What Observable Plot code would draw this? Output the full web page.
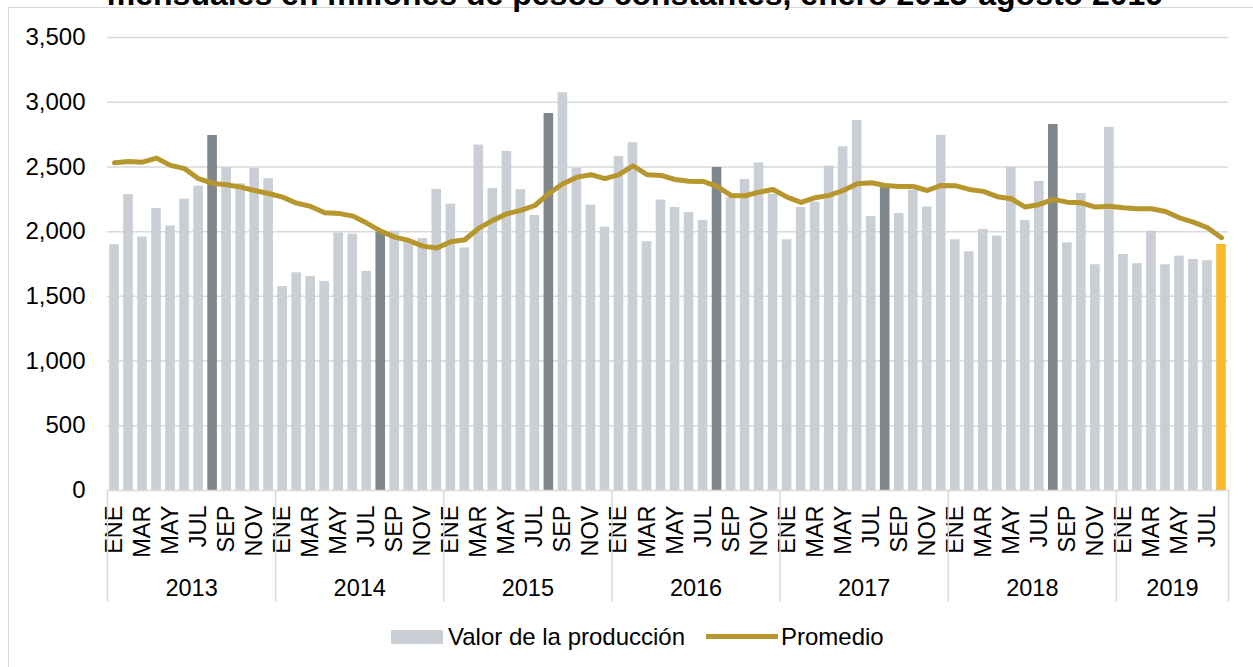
<!DOCTYPE html>
<html>
<head>
<meta charset="utf-8">
<script src="https://cdn.jsdelivr.net/npm/d3@7"></script>
<script src="https://cdn.jsdelivr.net/npm/@observablehq/plot@0.6"></script>
<style>
  html, body { margin: 0; padding: 0; background: #fff; overflow: hidden; }
  body { font-family: "Liberation Sans", Arial, sans-serif; }
  #wrap { position: relative; width: 1253px; height: 667px; overflow: hidden; }
  #frame { position: absolute; left: 8px; top: 7px; width: 1270px; height: 680px; border: 1px solid #d9d9d9; box-sizing: border-box; }
  #title { position: absolute; left: 0; width: 1270px; top: -22px; text-align: center; font-weight: bold; font-size: 32px; line-height: 32px; color: #000; white-space: nowrap; }
  #chart { position: absolute; left: 0; top: 0; }
  .leg { position: absolute; font-size: 24px; line-height: 24px; color: #000; white-space: nowrap; }
</style>
</head>
<body>
<div id="wrap">
  <div id="frame"></div>
  <div id="chart"></div>
  <div id="title">mensuales en millones de pesos constantes, enero 2013-agosto 2019</div>
  <div id="legend"></div>
</div>
<script>
const months = ["ENE","FEB","MAR","ABR","MAY","JUN","JUL","AGO","SEP","OCT","NOV","DIC"];
const years = [2013, 2014, 2015, 2016, 2017, 2018, 2019];
const yTicks = [0, 500, 1000, 1500, 2000, 2500, 3000, 3500];

const valor = [
  1899, 2287, 1958, 2179, 2043, 2251, 2352, 2743, 2494, 2370, 2488, 2409,
  1576, 1682, 1654, 1615, 1989, 1981, 1692, 1996, 2004, 1930, 1947, 2326,
  2213, 1873, 2669, 2334, 2620, 2324, 2125, 2913, 3073, 2491, 2205, 2035,
  2581, 2687, 1922, 2244, 2187, 2148, 2087, 2496, 2262, 2403, 2530, 2290,
  1937, 2187, 2228, 2506, 2656, 2859, 2117, 2350, 2141, 2320, 2190, 2743,
  1937, 1845, 2017, 1965, 2499, 2087, 2388, 2828, 1914, 2295, 1744, 2805,
  1824, 1752, 2004, 1744, 1811, 1785, 1775, 1901
];

const promedio = [
  2532, 2542, 2537, 2568, 2512, 2487, 2409, 2373, 2362, 2344, 2318, 2295,
  2267, 2220, 2195, 2146, 2141, 2120, 2066, 2004, 1958, 1932, 1888, 1873,
  1922, 1937, 2027, 2087, 2138, 2164, 2202, 2295, 2370, 2421, 2440, 2409,
  2440, 2509, 2440, 2434, 2403, 2390, 2388, 2349, 2280, 2277, 2305, 2326,
  2267, 2226, 2262, 2280, 2318, 2370, 2378, 2357, 2349, 2349, 2318, 2357,
  2355, 2326, 2311, 2270, 2254, 2190, 2210, 2249, 2228, 2223, 2190, 2197,
  2185, 2177, 2177, 2156, 2107, 2074, 2030, 1953
];

const colBar = "#c9cfd5", colAug = "#7f878d", colCur = "#fbba27", colLine = "#b8962e";

const data = valor.map((v, i) => ({
  i, v, p: promedio[i], m: i % 12, year: years[Math.floor(i / 12)],
  tipo: i === valor.length - 1 ? "actual" : (i % 12 === 7 ? "agosto" : "otro")
}));

const n = valor.length;
const yearInfo = years.map((y, k) => {
  const start = k * 12;
  const count = Math.min(12, n - start);
  return { year: y, start, count };
});
const separators = yearInfo.map(d => d.start - 0.5).concat([n - 0.5]);
const monthTicks = d3.range(0, n, 2);

const chart = Plot.plot({
  width: 1253,
  height: 610,
  marginLeft: 107,
  marginRight: 25,
  marginTop: 37,
  marginBottom: 120,
  style: { fontFamily: "Liberation Sans, Arial, sans-serif", fontSize: "24px", color: "#000", background: "transparent" },
  x: { type: "linear", domain: [-0.5, n - 0.5], axis: null, label: null },
  y: { domain: [0, 3500], axis: null, label: null },
  color: { domain: ["otro", "agosto", "actual"], range: [colBar, colAug, colCur] },
  marks: [
    Plot.gridY(yTicks.slice(1), { stroke: "#d9d9d9", strokeOpacity: 1, strokeWidth: 1.5 }),
    Plot.axisY(yTicks, { tickSize: 0, tickPadding: 22, tickFormat: d3.format(","), fontSize: 24, fill: "#000", label: null }),
    Plot.rectY(data, { x1: d => d.i - 0.5, x2: d => d.i + 0.5, y: "v", fill: "tipo", insetLeft: 2.2, insetRight: 2.2 }),
    Plot.ruleY([0], { stroke: "#d9d9d9", strokeWidth: 1.5 }),
    Plot.lineY(data, { x: "i", y: "p", stroke: colLine, strokeWidth: 5, strokeLinejoin: "round", strokeLinecap: "round" }),
    Plot.axisX(monthTicks, { tickSize: 0, tickPadding: 15, tickRotate: -90, tickFormat: i => months[i % 12], fontSize: 23.5, fill: "#000", label: null }),
    Plot.ruleX(separators, { x: d => d, stroke: "#d9d9d9", strokeWidth: 1.5, insetTop: 453, insetBottom: -112 }),
    Plot.text(yearInfo, { x: d => d.start + (d.count - 1) / 2, text: d => String(d.year), frameAnchor: "bottom", dy: 98, lineAnchor: "middle", fontSize: 23.5, fill: "#000" })
  ]
});
document.getElementById("chart").appendChild(chart);

const legend = document.getElementById("legend");
legend.innerHTML = `
  <div style="position:absolute;left:391px;top:630px;width:52px;height:14px;background:${colBar}"></div>
  <div class="leg" style="left:448px;top:625px">Valor de la producción</div>
  <div style="position:absolute;left:706px;top:634px;width:72px;height:5px;background:${colLine}"></div>
  <div class="leg" style="left:781px;top:625px">Promedio</div>
`;
</script>
</body>
</html>
